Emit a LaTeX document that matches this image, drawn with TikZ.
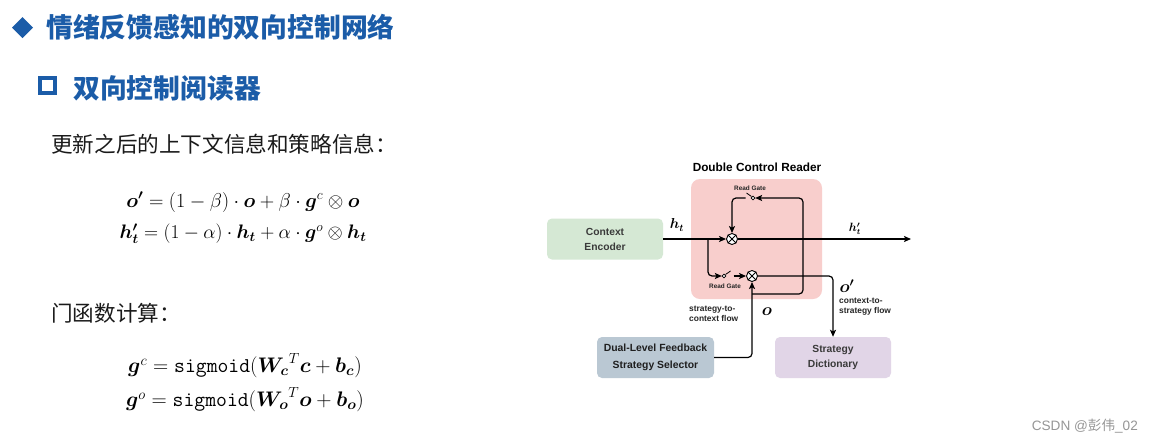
\documentclass[tikz,border=0pt]{standalone}
\usepackage{fontspec}
\usepackage{bm}
\usetikzlibrary{arrows.meta}
\newfontfamily\cjkfont{Noto Sans CJK SC}
\newfontfamily\diafont{Liberation Sans}
\definecolor{titleblue}{RGB}{27,92,168}
\definecolor{bodyink}{RGB}{26,26,26}
\definecolor{readerpink}{RGB}{248,206,204}
\definecolor{encgreen}{RGB}{213,232,212}
\definecolor{selblue}{RGB}{186,200,211}
\definecolor{dictlilac}{RGB}{225,213,231}
\definecolor{boxtext}{RGB}{58,58,58}
\definecolor{markgray}{RGB}{150,150,150}

\newcommand{\eqscaled}[2][1.16]{\scalebox{#1}{#2}}

\tikzset{
  heading/.style={anchor=west, inner sep=0pt, text=titleblue,
    font=\cjkfont\bfseries\fontsize{26.8}{32}\selectfont},
  bodytext/.style={anchor=west, inner sep=0pt, text=bodyink,
    font=\cjkfont\fontsize{21.6}{26}\selectfont},
  formula/.style={inner sep=0pt, text=black, font=\fontsize{17.28}{21}\selectfont},
  block/.style={rounded corners=5pt, minimum width=116pt, minimum height=41pt,
    align=center, inner sep=0pt},
  greylabel/.style={font=\diafont\bfseries\fontsize{10.3}{15}\selectfont, text=boxtext},
  boldlabel/.style={font=\diafont\bfseries\fontsize{10.4}{16.5}\selectfont, text=black!88},
  gatelabel/.style={inner sep=0pt, font=\diafont\bfseries\fontsize{6.4}{7}\selectfont, text=black!85},
  flowlabel/.style={inner sep=0pt, align=left, anchor=west,
    font=\diafont\bfseries\fontsize{8.4}{10}\selectfont, text=black!85},
  symlabel/.style={inner sep=0pt},
  wire/.style={line width=1.2pt, draw=black},
  flow/.style={wire, -{Stealth[length=7pt, width=6pt, inset=1.5pt]}},
  mult/.style={circle, draw, fill=white, line width=0.9pt, minimum size=11pt, inner sep=0pt},
  pivot/.style={circle, draw, fill=white, line width=0.7pt, minimum size=3.6pt, inner sep=0pt},
}

\begin{document}
\begin{tikzpicture}[x=1pt, y=-1pt]
\useasboundingbox (0,0) rectangle (1155,445);
\fill[white] (0,0) rectangle (1155,445);

% ---- headings ----
\fill[titleblue] (22.5,17) -- (33,27.5) -- (22.5,38) -- (12,27.5) -- cycle;
\node[heading] (title) at (46,27.5) {情绪反馈感知的双向控制网络};
\draw[titleblue, line width=3.6pt] (39.8,77.8) rectangle (55.2,93.2);
\node[heading] (subtitle) at (73,88.5) {双向控制阅读器};

% ---- formulas ----
\node[bodytext] (upd) at (51,144) {更新之后的上下文信息和策略信息：};
\node[formula] (eqo) at (243,202) {\eqscaled{$\bm{o'} = (1-\beta)\cdot\bm{o}+\beta\cdot\bm{g}^{c}\otimes\bm{o}$}};
\node[formula] (eqh) at (243,234) {\eqscaled[1.13]{$\bm{h'_t} = (1-\alpha)\cdot\bm{h_t}+\alpha\cdot\bm{g}^{o}\otimes\bm{h_t}$}};
\node[bodytext] (gate) at (51,313) {门函数计算：};
\node[formula] (eqgc) at (245,366) {\eqscaled[1.22]{$\bm{g}^{c} = \mathtt{sigmoid}(\mathord{\bm{W_c}}^{T}\bm{c}+\bm{b_c})$}};
\node[formula] (eqgo) at (245,400) {\eqscaled[1.22]{$\bm{g}^{o} = \mathtt{sigmoid}(\mathord{\bm{W_o}}^{T}\bm{o}+\bm{b_o})$}};

% ---- reader diagram ----
\node[rounded corners=9pt, fill=readerpink, minimum width=131pt, minimum height=120pt] (reader) at (756.5,239) {};
\node[font=\diafont\bfseries\fontsize{11.8}{14}\selectfont, inner sep=0pt] (readertitle) at (757,167) {Double Control Reader};

\node[block, fill=encgreen, greylabel] (enc) at (605,239) {Context\\Encoder};
\node[block, fill=selblue, boldlabel, minimum width=117pt] (sel) at (655.5,357.5) {Dual-Level Feedback\\Strategy Selector};
\node[block, fill=dictlilac, greylabel] (dict) at (833,357.5) {Strategy\\Dictionary};

\node[mult] (m1) at (732,239) {};
\node[mult] (m2) at (752,276) {};
\foreach \m in {m1,m2} {
  \draw[line width=0.9pt] (\m.45) -- (\m.225) (\m.135) -- (\m.315);
}

\node[pivot] (sw1) at (753,198) {};
\node[pivot] (sw2) at (724,276) {};
\coordinate (lev1) at (746.5,193);
\coordinate (lev2) at (730.5,271);
\coordinate (fix1) at (745.5,198);
\coordinate (fix2) at (733.5,276);
\coordinate (hsplit) at (708,239);
\coordinate (hend) at (911,239);
\coordinate (ojoin) at (752,294);
\coordinate (loopcorner) at (803,198);

% context state through the reader
\draw[flow] (enc.east) -- (m1.west);
\draw[flow] (m1.east) -- (hend);
\draw[flow, rounded corners=4pt] (hsplit) |- (sw2.west);
\draw[line width=0.8pt] (sw2.45) -- (lev2);
\draw[flow] (fix2) -- (m2.west);

% strategy state from the selector
\draw[flow, rounded corners=4pt] (sel.east) -| (m2.south);
\draw[flow, rounded corners=4pt] (ojoin) -| (loopcorner) -- (sw1.east);
\draw[line width=0.8pt] (sw1.135) -- (lev1);
\draw[flow, rounded corners=4pt] (fix1) -| (m1.north);

% updated strategy to the dictionary
\draw[flow, rounded corners=4pt] (m2.east) -| (dict.north);

% labels
\node[gatelabel] (gl1) at (750,188) {Read Gate};
\node[gatelabel] (gl2) at (725,286) {Read Gate};
\node[symlabel, font=\fontsize{14.4}{16}\selectfont] (lht) at (677,225) {$\bm{h_t}$};
\node[symlabel, font=\fontsize{12}{13}\selectfont] (lhtp) at (855,229) {$\bm{h'_t}$};
\node[symlabel, font=\fontsize{17.28}{19}\selectfont] (lop) at (847,286) {$\bm{o'}$};
\node[symlabel, font=\fontsize{17.28}{19}\selectfont] (lo) at (767,312) {$\bm{o}$};
\node[flowlabel] (s2c) at (689,314) {strategy-to-\\context flow};
\node[flowlabel] (c2s) at (839,307) {context-to-\\strategy flow};

% ---- watermark ----
\node[anchor=east, inner sep=0pt, text=markgray, font=\fontsize{13.6}{16}\selectfont] (mark) at (1138,426)
  {\diafont CSDN @\cjkfont 彭伟\diafont\_02};
\end{tikzpicture}
\end{document}
